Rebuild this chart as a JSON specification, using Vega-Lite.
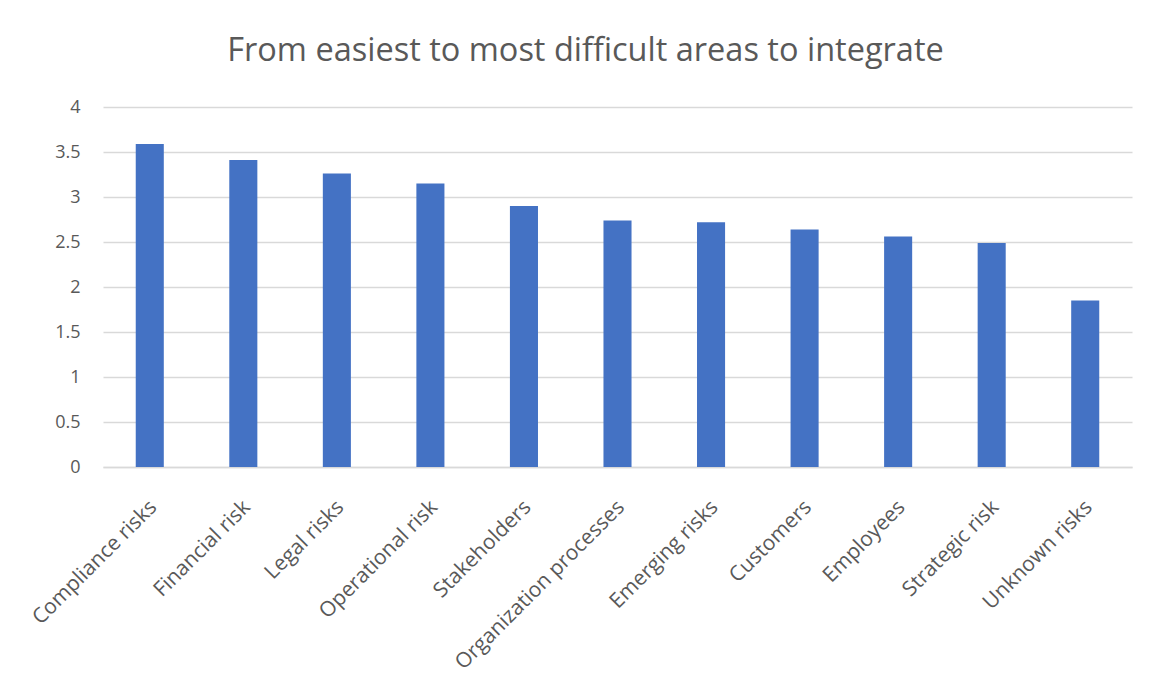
{
  "$schema": "https://vega.github.io/schema/vega-lite/v6.json",
  "autosize": "none",
  "width": 1029,
  "height": 360,
  "padding": {"left": 103, "top": 107, "right": 21, "bottom": 207},
  "background": "white",
  "title": {
    "text": "From easiest to most difficult areas to integrate",
    "font": "Open Sans",
    "fontSize": 32.5,
    "fontWeight": "normal",
    "color": "#595959",
    "anchor": "middle",
    "dx": -32,
    "offset": 31
  },
  "data": {
    "values": [
      {"area": "Compliance risks", "score": 3.59},
      {"area": "Financial risk", "score": 3.41},
      {"area": "Legal risks", "score": 3.26},
      {"area": "Operational risk", "score": 3.15},
      {"area": "Stakeholders", "score": 2.90},
      {"area": "Organization processes", "score": 2.74},
      {"area": "Emerging risks", "score": 2.72},
      {"area": "Customers", "score": 2.64},
      {"area": "Employees", "score": 2.56},
      {"area": "Strategic risk", "score": 2.49},
      {"area": "Unknown risks", "score": 1.85}
    ]
  },
  "mark": {"type": "bar", "color": "#4472C4"},
  "encoding": {
    "x": {
      "field": "area",
      "type": "nominal",
      "sort": null,
      "title": null,
      "scale": {"paddingInner": 0.7, "paddingOuter": 0.35},
      "axis": {
        "labelAngle": -45,
        "labelFont": "Open Sans",
        "labelFontSize": 21,
        "labelColor": "#595959",
        "ticks": false,
        "labelPadding": 29,
        "labelOffset": -4,
        "domainColor": "#d9d9d9",
        "domainWidth": 1.5,
        "labelLimit": 300
      }
    },
    "y": {
      "field": "score",
      "type": "quantitative",
      "title": null,
      "scale": {"domain": [0, 4]},
      "axis": {
        "values": [0, 0.5, 1, 1.5, 2, 2.5, 3, 3.5, 4],
        "format": "~g",
        "labelFont": "Open Sans",
        "labelFontSize": 18,
        "labelColor": "#595959",
        "ticks": false,
        "domain": false,
        "labelPadding": 23,
        "gridColor": "#d9d9d9",
        "gridWidth": 1.5
      }
    }
  },
  "config": {"view": {"stroke": null}}
}
